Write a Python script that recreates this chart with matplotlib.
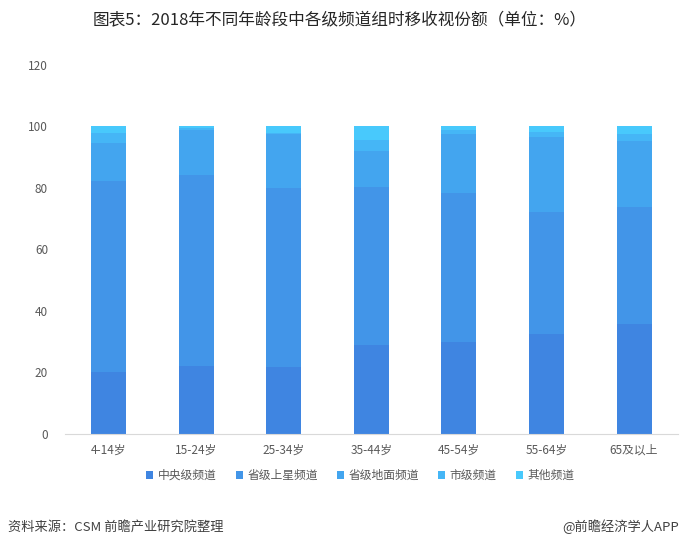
import numpy as np
import matplotlib
matplotlib.use('Agg')
import matplotlib.pyplot as plt
from matplotlib.patches import Patch

plt.rcParams['font.family'] = ['Noto Sans CJK SC', 'DejaVu Sans']

# data (share %)
ages = ['4-14岁', '15-24岁', '25-34岁', '35-44岁', '45-54岁', '55-64岁', '65及以上']
central = [20.1, 22.1, 21.7, 28.8, 29.9, 32.5, 35.7]      # 中央级频道
satellite = [62.3, 62.1, 58.4, 51.5, 48.6, 39.8, 38.2]    # 省级上星频道
terrestrial = [12.3, 14.5, 17.5, 11.7, 19.1, 24.2, 21.5]  # 省级地面频道
city = [3.1, 0.7, 0.4, 3.5, 1.3, 1.8, 2.1]                # 市级频道
other = [2.2, 0.6, 2.0, 4.5, 1.1, 1.7, 2.5]               # 其他频道
series_names = ['中央级频道', '省级上星频道', '省级地面频道', '市级频道', '其他频道']
colors = ['#3f85e1', '#4295e8', '#43a5ef', '#45b6f6', '#48c9fc']

fig = plt.figure(figsize=(6.8, 5.49), dpi=100)
ax = fig.add_axes([0.0951, 0.2095, 0.9017, 0.6721])

x = np.arange(len(ages))
bottom = np.zeros(len(ages))
for vals, c in zip([central, satellite, terrestrial, city, other], colors):
    ax.bar(x, vals, width=0.4, bottom=bottom, color=c, edgecolor='none')
    bottom += np.array(vals)

ax.set_xlim(-0.5, len(ages) - 0.5)
ax.set_ylim(0, 120)
ax.set_yticks(range(0, 121, 20))
ax.set_xticks(x)
ax.set_xticklabels(ages)
ax.tick_params(axis='both', length=0, colors='#595959', labelsize=8.5)
ax.tick_params(axis='y', pad=12)
ax.tick_params(axis='x', pad=7)
for s in ['top', 'right', 'left']:
    ax.spines[s].set_visible(False)
ax.spines['bottom'].set_color('#d9d9d9')

handles = [Patch(facecolor=c, edgecolor='none') for c in colors]
fig.legend(handles, series_names, loc='center', bbox_to_anchor=(0.53, 0.134),
           ncol=5, frameon=False, fontsize=8.5, handlelength=0.6, handleheight=0.6,
           handletextpad=0.4, columnspacing=1.6, labelcolor='#595959')

fig.text(0.5, 0.962, '图表5：2018年不同年龄段中各级频道组时移收视份额（单位：%）',
         ha='center', va='center', fontsize=12, color='#262626')
fig.text(0.012, 0.04, '资料来源：CSM 前瞻产业研究院整理', ha='left', va='center',
         fontsize=9.5, style='italic', color='#404040')
fig.text(0.998, 0.04, '@前瞻经济学人APP', ha='right', va='center',
         fontsize=9.5, color='#404040')

fig.savefig('out.png', dpi=100)
